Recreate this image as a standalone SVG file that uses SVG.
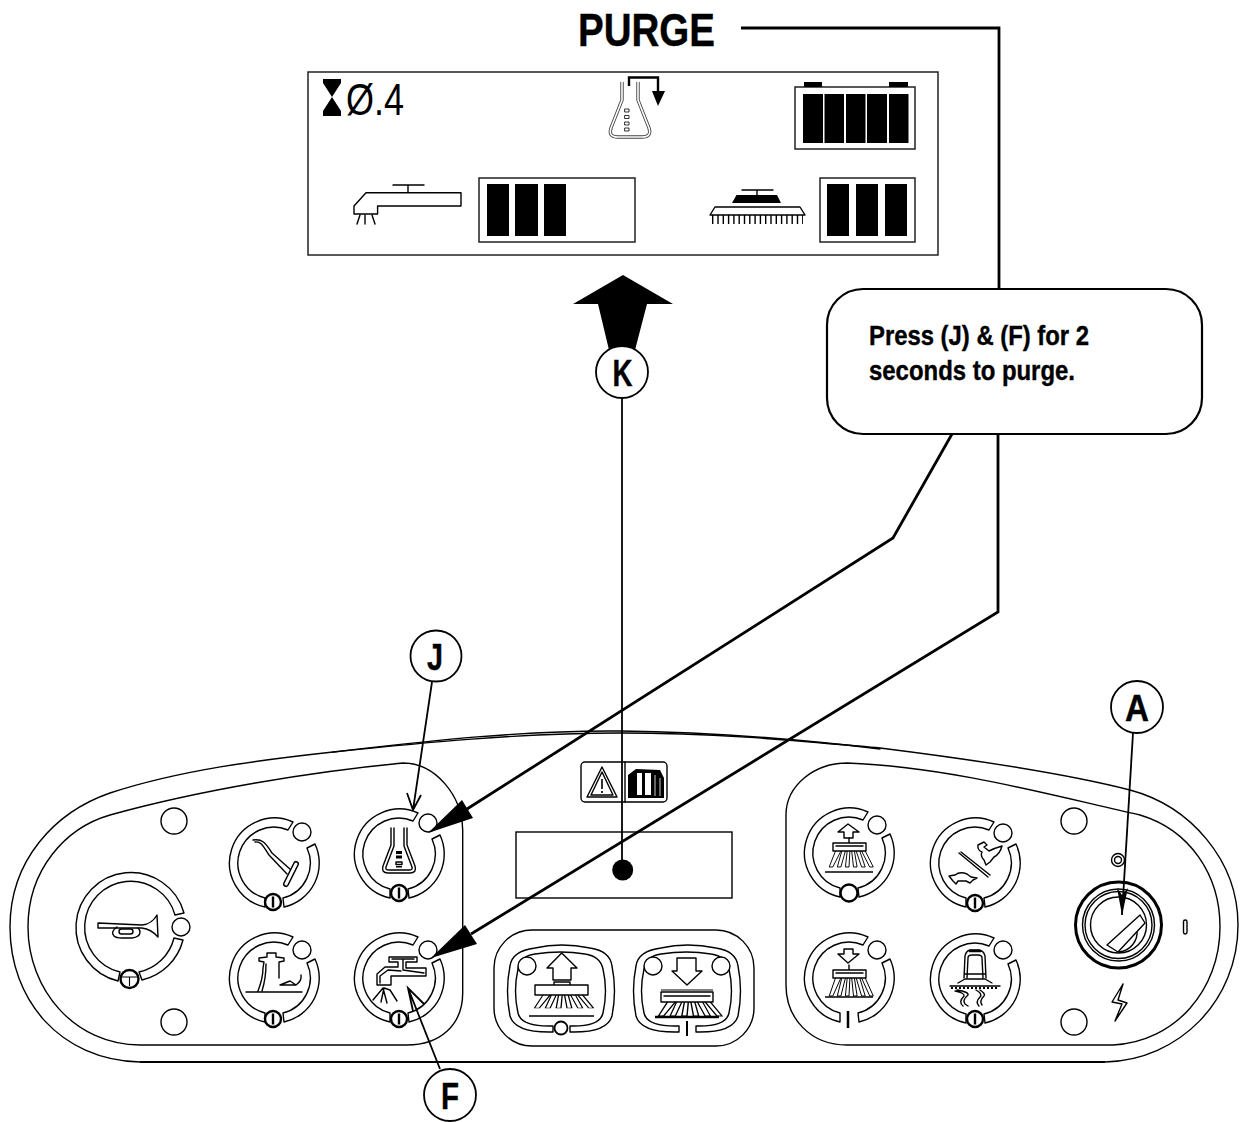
<svg xmlns="http://www.w3.org/2000/svg" width="1246" height="1122" viewBox="0 0 1246 1122">
<style>
.l{fill:none;stroke:#000;stroke-width:1.4;stroke-linejoin:round;stroke-linecap:round}
.w{fill:#fff;stroke:#000;stroke-width:1.4;stroke-linejoin:round}
.b{fill:#000;stroke:none}
.t{fill:none;stroke:#000;stroke-width:1.1}
.c{fill:none;stroke:#000;stroke-width:2.8;stroke-linejoin:miter}
.thin{fill:none;stroke:#000;stroke-width:1.8}
.k{fill:#fff;stroke:#000;stroke-width:1.8}
.d{fill:#fff;stroke:#222;stroke-width:1.5}
.bold{font-family:"Liberation Sans",Arial,sans-serif;font-weight:700;fill:#000;stroke:#000;stroke-width:.4}
.reg{font-family:"Liberation Sans",Arial,sans-serif;fill:#000}
</style>
<defs>
<g id="ring"><path class="l" d="M-9 44A45 45 0 1 1 19 -41L14 -33A36 36 0 1 0 -9 35Z"/><path class="l" d="M41 -19A45 45 0 0 1 10 44L9 35A36 36 0 0 0 33 -15Z"/></g>
<g id="mini"><circle r="8" fill="#fff" stroke="#000" stroke-width="2.400"/><rect x="-1.200" y="-5.500" width="2.400" height="11" fill="#000"/></g>
<circle id="led" r="9" class="w"/>
<circle id="hole" r="13" class="w"/>
<path id="shell" class="l" d="M-8 44Q-46 45 -51 28Q-56 3 -51 -22Q-49 -37 -26 -40Q0 -46 29 -40Q49 -37 51 -22Q56 3 51 28Q46 45 9 44L9 38Q39 39 42 25Q47 3 42 -19Q39 -32 24 -34Q0 -38 -26 -34Q-41 -32 -43 -19Q-48 3 -43 25Q-40 39 -8 38Z"/>
<path id="fan" class="t" d="M-15 0L-22 20L-18 20L-9 0M-8 0L-13 20L-9 20L-4 0M-2 0L-4 20L0 20L1 0M3 0L5 20L9 20L6 0M8 0L14 20L18 20L12 0M14 0L23 20L27 20L18 0"/>
</defs>

<g id="panel">
<path class="l" d="M1105 1062L140 1062C60 1060 10 1000 10 927C10 860 55 812 110 793C180 770 260 760 333 752C420 743 520 733 620 733C720 733 800 741 880 748C960 758 1060 772 1130 790C1190 806 1238 860 1238 925C1238 1000 1180 1060 1105 1062Z"/>
<path class="l" d="M333 752C420 742 520 730 620 731C700 732 790 738 880 749"/>
<path d="M140 1062L1105 1062" fill="none" stroke="#000" stroke-width="2.200"/>
<path class="l" d="M140 1045C75 1045 28 990 28 927C28 870 65 828 110 815C200 790 310 772 403 763C435 763 462 795 462.700 830L462.700 993C462.700 1025 440 1045 407 1045Z"/>
<path class="l" d="M847 1045C810 1045 786 1018 786 985L786 815C786 785 815 763 847 763C950 767 1050 795 1140 815C1190 830 1220 875 1220 927C1220 990 1175 1042 1113 1045Z"/>
</g>

<g id="holes">
<use href="#hole" x="174" y="821"/><use href="#hole" x="174" y="1022"/>
<use href="#hole" x="1074" y="821"/><use href="#hole" x="1074" y="1022"/>
</g>

<g id="btn-horn">
<path class="l" d="M118 981A55 55 0 1 1 184 913L175 915A46 46 0 1 0 120 972Z"/>
<path class="l" d="M183 940A55 55 0 0 1 142 980L139 972A46 46 0 0 0 174 938Z"/>
<circle cx="181" cy="927" r="9" class="w"/>
<circle cx="129.500" cy="979" r="9" fill="#fff" stroke="#000" stroke-width="2.400"/>
<path class="t" d="M121 977h17M129.500 977v9"/>
<path class="l" d="M98 923L142 925Q152 924 157 915L158 937Q151 929 142 928L98 928Z"/>
<path class="l" d="M117 927Q110 932 114 936Q116 938 122 938L132 938Q140 937 140 932Q140 930 138 928"/>
<rect x="119" y="929" width="14" height="5" rx="2.500" class="l"/>
</g>

<g id="btn-pedal">
<use href="#ring" x="274" y="863"/>
<use href="#led" x="302" y="832"/>
<use href="#mini" x="273" y="902"/>
<path class="l" d="M253 840C264 838 267 846 272 853L291 870M255 842C262 841 264 848 269 855L287 874"/>
<path d="M296 864L286 884" stroke="#000" stroke-width="6" stroke-linecap="round" fill="none"/>
<path d="M296 864L286 884" stroke="#fff" stroke-width="3" stroke-linecap="round" fill="none"/>
</g>

<g id="btn-purge">
<use href="#ring" x="399" y="854"/>
<use href="#led" x="428" y="823"/>
<use href="#mini" x="399" y="893"/>
<path class="l" d="M391 828L391 845L383 866Q381 873 388 873L410 873Q417 873 415 866L407 845L407 828M394 828L394 846L386 867Q385 870 389 870L409 870Q413 870 412 867L404 846L404 828"/>
<rect x="396" y="851" width="6" height="3" class="b"/><rect x="396" y="855.500" width="6" height="3" class="b"/><rect x="396" y="862" width="6" height="2.500" class="l"/><rect x="396" y="866" width="6" height="1.500" class="b"/>
</g>

<g id="btn-squeegee">
<use href="#ring" x="274" y="978"/>
<use href="#led" x="302" y="950"/>
<use href="#mini" x="273" y="1019"/>
<path class="l" d="M258 991Q263 978 263 968L264 962L259 961L259 958L267 957L267 953L276 953L276 957L284 958L284 961L279 962L279 978M246 992L302 992"/>
<path class="l" d="M262 991Q266 978 266 964"/>
<path class="l" d="M280 985L290 981L296 985ZM296 985Q302 981 301 975"/>
</g>

<g id="btn-faucet">
<use href="#ring" x="399" y="978"/>
<use href="#led" x="428" y="950"/>
<use href="#mini" x="399" y="1019"/>
<path class="l" d="M389 957L417 957L417 962L406 962L406 968L426 968L426 976L391 976L391 985L377 985L377 974L385 967L398 967L398 962L389 962Z"/>
<path class="l" d="M392 959L414 959M403 960L403 970L424 973M380 983L380 976L388 970L401 971"/>
<path class="l" d="M373 1000L383 988L387 1003M381 1002L384 988L390 990L397 1001"/>
</g>

<g id="btn-brush-up">
<use href="#ring" x="849" y="853"/>
<use href="#led" x="877" y="825"/>
<circle cx="849" cy="893" r="8.500" fill="#fff" stroke="#000" stroke-width="2.400"/>
<path class="l" d="M848 824L859 832L853 832L853 838L844 838L844 832L838 832Z"/>
<path class="l" d="M849 838V843M833 843H866V851H833ZM836 846H863"/>
<use href="#fan" transform="translate(849 851) scale(.9 .8)"/>
<path d="M825 872H873" stroke="#000" stroke-width="1.400"/>
</g>

<g id="btn-brush-down">
<use href="#ring" x="849" y="978"/>
<use href="#led" x="877" y="950"/>
<path d="M848 1011V1028" stroke="#000" stroke-width="2.500"/>
<path class="l" d="M844 949H853V954H859L848 963L838 954H844Z"/>
<path class="l" d="M849 965V970M833 970H866V978H833ZM836 973H863"/>
<use href="#fan" transform="translate(849 978) scale(.9 .9)"/>
<path d="M825 997H873" stroke="#000" stroke-width="1.400"/>
</g>

<g id="btn-speed">
<use href="#ring" x="975" y="863"/>
<use href="#led" x="1003" y="833"/>
<use href="#mini" x="975" y="903"/>
<path class="l" d="M959 853L988 877M961 852L990 875"/>
<path class="l" d="M978 845L984 842L987 845L984 847L989 851Q995 848 1002 846Q1000 854 994 857L990 862L986 865L984 860Q980 856 982 852Q977 850 978 845Z"/>
<path class="l" d="M949 876L955 875Q960 871 967 874L971 877L977 878L973 880L970 883L966 881L958 881L956 884L953 881Z"/>
</g>

<g id="btn-vacuum">
<use href="#ring" x="975" y="979"/>
<use href="#led" x="1003" y="950"/>
<use href="#mini" x="975" y="1019"/>
<path class="l" d="M964 978L965 956Q966 951 970 950L979 950Q984 951 985 956L986 978M967 978L968 958Q968 955 972 955L978 955Q982 955 982 958L983 978M965 974H985"/>
<path d="M969 951H981" stroke="#000" stroke-width="2.500"/>
<path class="l" d="M958 983L965 979H985L992 983M950 986H1000"/>
<path d="M951 988H999" stroke="#000" stroke-width="1.800" stroke-dasharray="2 2"/>
<path class="l" d="M957 990Q969 992 968 995Q962 1000 965 1004L968 1006M955 991Q965 993 964 996Q958 1002 963 1006M980 990Q986 994 984 996Q979 1001 982 1005M976 990Q983 994 980 997Q975 1002 979 1006"/>
</g>

<g id="warning-plaque">
<rect x="581" y="762" width="86" height="40" rx="4" class="l"/>
<path class="l" d="M625 762V802"/>
<path class="l" d="M602 767L587 797H617ZM602 772L591 795H613Z"/>
<path d="M602 779V789M602 791V793" stroke="#000" stroke-width="1.600"/>
<path class="b" d="M628 798V775L636 769L660 770L664 778V798Z"/>
<path fill="#fff" d="M637 773H642V795H637ZM645 773H651V795H645Z"/>
<path d="M655 775V796M660 778V796" stroke="#fff" stroke-width=".8"/>
</g>

<g id="lcd">
<rect x="516" y="832" width="216" height="66" fill="#fff" stroke="#000" stroke-width="1.400"/>
</g>

<g id="btn-group">
<rect x="494" y="930" width="260" height="116" rx="38" class="l"/>
<use href="#shell" x="561" y="988"/>
<use href="#shell" x="687" y="988"/>
<use href="#led" x="527" y="966"/><use href="#led" x="653" y="966"/><use href="#led" x="721" y="966"/>
<circle cx="561" cy="1028" r="6.500" fill="#fff" stroke="#000" stroke-width="1.800"/>
<path d="M687 1021V1036" stroke="#000" stroke-width="2"/>
<path class="l" d="M561.700 953L577 968H571V980H553V968H547Z"/>
<path class="l" d="M535 985H554V982H570V985H588V995H535ZM554 985H570"/>
<use href="#fan" transform="translate(561 995) scale(1.200 .65)"/>
<path d="M529 1016H594" stroke="#000" stroke-width="1.300"/>
<path class="l" d="M677 958H696V971H702L687 985L672 971H677Z"/>
<path class="l" d="M661 992H713V1002H661ZM664 996H710"/>
<path d="M661 990H713" stroke="#000" stroke-width="1.200"/>
<use href="#fan" transform="translate(687 1002) scale(1.300 .7)"/>
<path d="M655 1017H719" stroke="#000" stroke-width="2.400"/>
</g>

<g id="key-switch">
<circle cx="1118" cy="860" r="6.500" class="l"/><circle cx="1118" cy="860" r="3.500" class="l"/>
<circle cx="1118.500" cy="925" r="43" fill="#fff" stroke="#000" stroke-width="3"/>
<circle cx="1118.500" cy="925" r="36" class="l"/><circle cx="1118.500" cy="925" r="33.500" class="l"/><circle cx="1118.500" cy="925" r="28" class="l"/>
<path class="l" d="M1137 930A20 20 0 0 1 1119 952"/>
<path class="w" d="M1107 945L1140 915L1145 923L1118 952Z"/>
<rect x="1183.500" y="920" width="3.500" height="14" rx="1.700" class="l"/>
<path class="l" d="M1123 984L1112 1002L1122 1004L1115 1021L1127 1003L1118 1000Z"/>
</g>

<g id="display">
<rect x="308" y="72" width="630" height="183" class="d"/>
<path class="b" d="M323 79H341V83L332 97L341 111V116H323V111L332 97L323 83Z"/>
<text class="reg" x="346" y="115" font-size="44" textLength="58" lengthAdjust="spacingAndGlyphs">Ø.4</text>
<g id="disp-flask">
<path d="M622 82V100L611 128Q608 137 618 137H642Q652 137 649 128L638 100V82" fill="none" stroke="#444" stroke-width="3.400"/>
<path d="M622 82V100L611 128Q608 137 618 137H642Q652 137 649 128L638 100V82" fill="none" stroke="#fff" stroke-width="1.600"/>
<path class="l" style="stroke-width:.8" d="M625 109h4v3h-4zM625 115.500h4v3h-4zM625 122h4v3h-4zM625 128h4v3h-4z"/>
<path d="M629 86V77.500H658V92" fill="none" stroke="#000" stroke-width="2.400"/>
<path class="b" d="M652 91H665L658 106Z"/>
</g>
<g id="disp-battery">
<rect x="795" y="87" width="120" height="62" class="d"/>
<rect x="804" y="82" width="18" height="5" class="b"/><rect x="889" y="82" width="19" height="5" class="b"/>
<rect x="803" y="94" width="20" height="49" class="b"/><rect x="824.500" y="94" width="19.500" height="49" class="b"/><rect x="846" y="94" width="19.500" height="49" class="b"/><rect x="867" y="94" width="20" height="49" class="b"/><rect x="889" y="94" width="19.500" height="49" class="b"/>
</g>
<g id="disp-water">
<path class="l" d="M393 185H424M408 185V192.700M461 192.700H366L354 206V214H377.600V206H461Z"/>
<path class="l" d="M360 215L357 224M365 215V224M372 215L375 224"/>
<rect x="479" y="178" width="156" height="64" class="d"/>
<rect x="487" y="184" width="22" height="52" class="b"/><rect x="515" y="184" width="23" height="52" class="b"/><rect x="544" y="184" width="22" height="52" class="b"/>
</g>
<g id="disp-brush">
<path class="l" d="M742 190H773M757 190V195"/>
<path class="b" d="M736.500 195H777L781 203H732Z"/>
<path class="l" d="M715 207H800L805 215H710Z"/>
<path d="M712 219.500H803" stroke="#000" stroke-width="9" stroke-dasharray="1.400 3.900" fill="none"/>
<rect x="820" y="178" width="95" height="64" class="d"/>
<rect x="827" y="184" width="22" height="52" class="b"/><rect x="856" y="184" width="22" height="52" class="b"/><rect x="885" y="184" width="22" height="52" class="b"/>
</g>
</g>

<text id="purge-title" class="bold" x="578" y="46" font-size="47" textLength="137" lengthAdjust="spacingAndGlyphs">PURGE</text>

<g id="connectors">
<path class="c" d="M741 28H999V289"/>
<path class="c" d="M998 434V612L471 934"/>
<path class="c" d="M952 434L893 538L467 809"/>
<path class="b" d="M428 833L462 800L473 818Z"/>
<path class="b" d="M431 958L465 925L477 944Z"/>
<path class="thin" d="M622 398V870"/>
<circle cx="622.700" cy="870" r="10.500" class="b"/>
<path class="b" d="M623 275L673 304H647L635 350H609L598 304H573Z"/>
<path class="thin" d="M432 682L413 810M407 793L413 810L421 795"/>
<path class="thin" d="M440 1069L408 988M413 1011L408 988L424 1004"/>
<path class="thin" d="M1133 733L1122 915"/>
<path class="b" d="M1122 915L1117 888L1122 895L1128 888Z"/>
</g>

<g id="callout-box">
<rect x="827" y="289" width="375" height="145" rx="36" fill="#fff" stroke="#000" stroke-width="2.200"/>
<text class="bold" x="869" y="345" font-size="27" textLength="220" lengthAdjust="spacingAndGlyphs">Press (J) &amp; (F) for 2</text>
<text class="bold" x="869" y="380" font-size="27" textLength="206" lengthAdjust="spacingAndGlyphs">seconds to purge.</text>
</g>
<g id="callout-k"><circle cx="622" cy="372" r="26" class="k"/><text class="bold" x="612.500" y="386" font-size="37" textLength="20" lengthAdjust="spacingAndGlyphs">K</text></g>
<g id="callout-j"><circle cx="436" cy="656" r="25.500" class="k"/><text class="bold" x="427" y="670" font-size="37" textLength="16" lengthAdjust="spacingAndGlyphs">J</text></g>
<g id="callout-f"><circle cx="450" cy="1095" r="26" class="k"/><text class="bold" x="441" y="1109" font-size="37" textLength="18" lengthAdjust="spacingAndGlyphs">F</text></g>
<g id="callout-a"><circle cx="1137" cy="707" r="26" class="k"/><text class="bold" x="1125" y="721" font-size="37" textLength="24" lengthAdjust="spacingAndGlyphs">A</text></g>
</svg>
